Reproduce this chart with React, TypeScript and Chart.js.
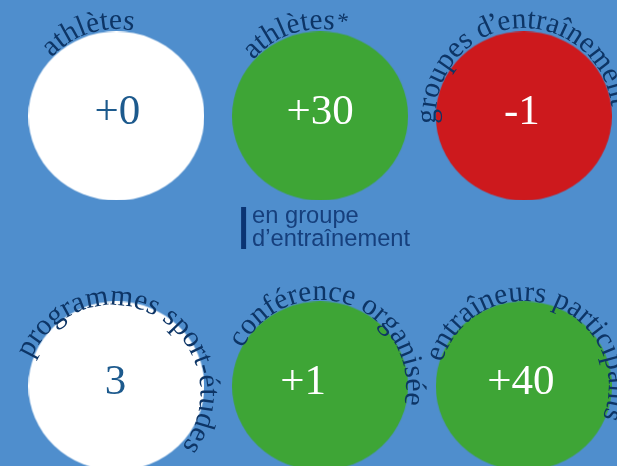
import React, { useEffect, useRef } from "react";
import { Chart, registerables } from "chart.js";

Chart.register(...registerables);

// ---- data ----
const categories = [
  "athlètes",
  "athlètes*",
  "groupes d’entraînement",
  "programmes sport-études",
  "conférence organisée",
  "entraîneurs participants",
];
const values = [0, 30, -1, 3, 1, 40];
const isChange = [true, true, true, false, true, true];
const columns = [0, 1, 2, 0, 1, 2];
const rows = [0, 0, 0, 1, 1, 1];
const legendLines = ["en groupe", "d’entraînement"];

// ---- styling / layout ----
const BG = "#4f8ecd";
const GREEN = "#3ea536";
const RED = "#cd191d";
const WHITE = "#ffffff";
const ARC_TEXT = "#0d3566";
const VALUE_DARK = "#1d5a8d";
const LEGEND_TEXT = "#163f7c";
const LEGEND_BAR = "#0a3473";
const arcStart = [-138, -140, -185, -157, -154, -164];
const arcRadius = [87, 87, 88, 88, 86, 85];
const arcOffset = [
  [0, 0],
  [0, 0],
  [0, 0],
  [-4, 7],
  [0, 0],
  [0, 0],
];
const valueDx = [1, 0, -2, -1, -17, -3];

function fmt(v: number, change: boolean) {
  if (change && v >= 0) return "+" + v;
  return String(v);
}

function colorFor(v: number, change: boolean) {
  if (!change || v === 0) return WHITE;
  return v > 0 ? GREEN : RED;
}

function ellipseCanvas(color: string) {
  const c = document.createElement("canvas");
  c.width = 176;
  c.height = 169;
  const ctx = c.getContext("2d")!;
  ctx.fillStyle = color;
  ctx.beginPath();
  ctx.ellipse(88, 84.5, 88, 84.5, 0, 0, Math.PI * 2);
  ctx.fill();
  return c;
}

function drawArcText(
  ctx: CanvasRenderingContext2D,
  text: string,
  cx: number,
  cy: number,
  r: number,
  startDeg: number
) {
  ctx.save();
  ctx.fillStyle = ARC_TEXT;
  ctx.textAlign = "left";
  ctx.textBaseline = "alphabetic";
  let a = (startDeg * Math.PI) / 180;
  for (const ch of Array.from(text)) {
    ctx.font = ch === "*" ? '23px "Liberation Serif"' : '29.5px "Liberation Serif"';
    const glyphW = ctx.measureText(ch).width;
    const w = ch === "’" ? glyphW * 0.55 : glyphW;
    const mid = a + w / 2 / r;
    ctx.save();
    ctx.translate(cx + r * Math.cos(mid), cy + r * Math.sin(mid));
    ctx.rotate(mid + Math.PI / 2);
    ctx.fillText(ch, -glyphW / 2, ch === "*" ? -3 : 0);
    ctx.restore();
    a += w / r;
  }
  ctx.restore();
}

const infoPlugin = {
  id: "infoPlugin",
  beforeDraw(chart: any) {
    const ctx = chart.ctx;
    ctx.save();
    ctx.fillStyle = BG;
    ctx.fillRect(0, 0, chart.width, chart.height);
    ctx.restore();
  },
  afterDatasetsDraw(chart: any) {
    const ctx: CanvasRenderingContext2D = chart.ctx;
    const meta = chart.getDatasetMeta(0);
    meta.data.forEach((el: any, i: number) => {
      const x = el.x;
      const y = el.y;
      drawArcText(
        ctx,
        categories[i],
        x + arcOffset[i][0],
        y + arcOffset[i][1],
        arcRadius[i],
        arcStart[i]
      );
      const color = colorFor(values[i], isChange[i]);
      ctx.save();
      ctx.font = '43px "Liberation Serif"';
      ctx.textAlign = "center";
      ctx.textBaseline = "alphabetic";
      ctx.fillStyle = color === WHITE ? VALUE_DARK : WHITE;
      ctx.fillText(fmt(values[i], isChange[i]), x + valueDx[i], y + 8.5);
      ctx.restore();
    });
    // legend note under the second circle
    const ref = meta.data[1];
    if (ref) {
      const lx = ref.x - 79;
      const ly = ref.y + 91;
      ctx.save();
      ctx.fillStyle = LEGEND_BAR;
      ctx.fillRect(lx, ly, 5, 42);
      ctx.fillStyle = LEGEND_TEXT;
      ctx.font = '23.7px "Liberation Sans"';
      ctx.textAlign = "left";
      ctx.textBaseline = "alphabetic";
      legendLines.forEach((t, k) => {
        ctx.fillText(t, lx + 11, ly + 16 + k * 23.5);
      });
      ctx.restore();
    }
  },
};

export default function App() {
  const ref = useRef<HTMLCanvasElement | null>(null);
  useEffect(() => {
    document.body.style.margin = "0";
    document.body.style.background = BG;
    const canvas = ref.current;
    if (!canvas) return;
    const styles = values.map((v, i) => ellipseCanvas(colorFor(v, isChange[i])));
    const chart = new Chart(canvas, {
      type: "scatter",
      data: {
        labels: categories,
        datasets: [
          {
            data: values.map((v, i) => ({ x: columns[i], y: rows[i] })),
            pointStyle: styles as any,
            pointRadius: 88,
            pointHoverRadius: 88,
            backgroundColor: values.map((v, i) => colorFor(v, isChange[i])),
            borderWidth: 0,
            clip: false as any,
          },
        ],
      },
      options: {
        animation: false,
        responsive: false,
        events: [],
        layout: { padding: 0, autoPadding: false },
        plugins: {
          legend: { display: false },
          tooltip: { enabled: false },
        },
        scales: {
          x: { type: "linear", display: false, min: -0.5714, max: 2.4575 },
          y: { type: "linear", display: false, reverse: true, min: -0.4296, max: 1.2963 },
        },
      },
      plugins: [infoPlugin],
    });
    return () => chart.destroy();
  }, []);
  return (
    <div style={{ width: 617, height: 466 }}>
      <canvas ref={ref} width={617} height={466} style={{ display: "block" }} />
    </div>
  );
}
